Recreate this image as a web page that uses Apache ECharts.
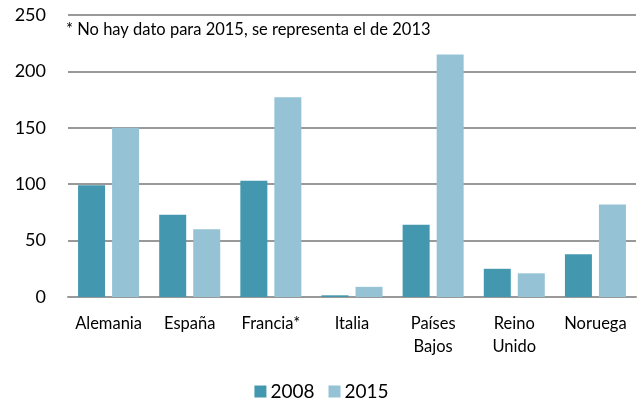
<!DOCTYPE html>
<html>
<head>
<meta charset="utf-8">
<script src="https://cdn.jsdelivr.net/npm/echarts@6/dist/echarts.min.js"></script>
<style>
  html, body { margin: 0; padding: 0; background: #fff; }
  #chart { width: 643px; height: 405px; }
</style>
</head>
<body>
<div id="chart"></div>
<script>
// categorias (paises)
const countries = ['Alemania', 'España', 'Francia*', 'Italia', 'Países\nBajos', 'Reino\nUnido', 'Noruega']
const seriesNames = ['2008', '2015']
const values2008 = [99, 73, 103, 1.5, 64, 25, 38]
const values2015 = [150, 60, 177, 9, 215, 21, 82]
const yTicks = [0, 50, 100, 150, 200, 250]
const note = '* No hay dato para 2015, se representa el de 2013'

const font = 'Lato, "Open Sans", sans-serif'
let myChart = echarts.init(document.getElementById('chart'))
myChart.setOption({
  animation: false,
  textStyle: { fontFamily: font },
  grid: { left: 68, right: 7, top: 15, bottom: 108 },
  graphic: [{
    type: 'text',
    left: 66,
    top: 21,
    style: { text: note, fontSize: 16.5, fill: '#000', fontFamily: font },
  }],
  legend: {
    data: seriesNames,
    bottom: -1,
    left: 'center',
    itemWidth: 12,
    itemHeight: 12,
    itemGap: 14,
    icon: 'rect',
    textStyle: { fontSize: 19, color: '#000', padding: [0, 0, 0, -1] },
  },
  xAxis: {
    type: 'category',
    data: countries,
    axisLine: { lineStyle: { color: '#999', width: 2 } },
    axisTick: { show: false },
    axisLabel: { fontSize: 16.5, color: '#000', margin: 15, lineHeight: 23, interval: 0 },
  },
  yAxis: {
    type: 'value',
    min: yTicks[0],
    max: yTicks[yTicks.length - 1],
    interval: 50,
    axisLine: { show: false },
    axisTick: { show: false },
    axisLabel: { fontSize: 18, color: '#000', margin: 22 },
    splitLine: { lineStyle: { color: '#999', width: 2 } },
  },
  series: [
    {
      name: seriesNames[0],
      type: 'bar',
      data: values2008,
      barWidth: 27,
      barGap: '26%',
      itemStyle: { color: '#4398B0' },
    },
    {
      name: seriesNames[1],
      type: 'bar',
      data: values2015,
      barWidth: 27,
      itemStyle: { color: '#95C3D5' },
    },
  ],
})
</script>
</body>
</html>
